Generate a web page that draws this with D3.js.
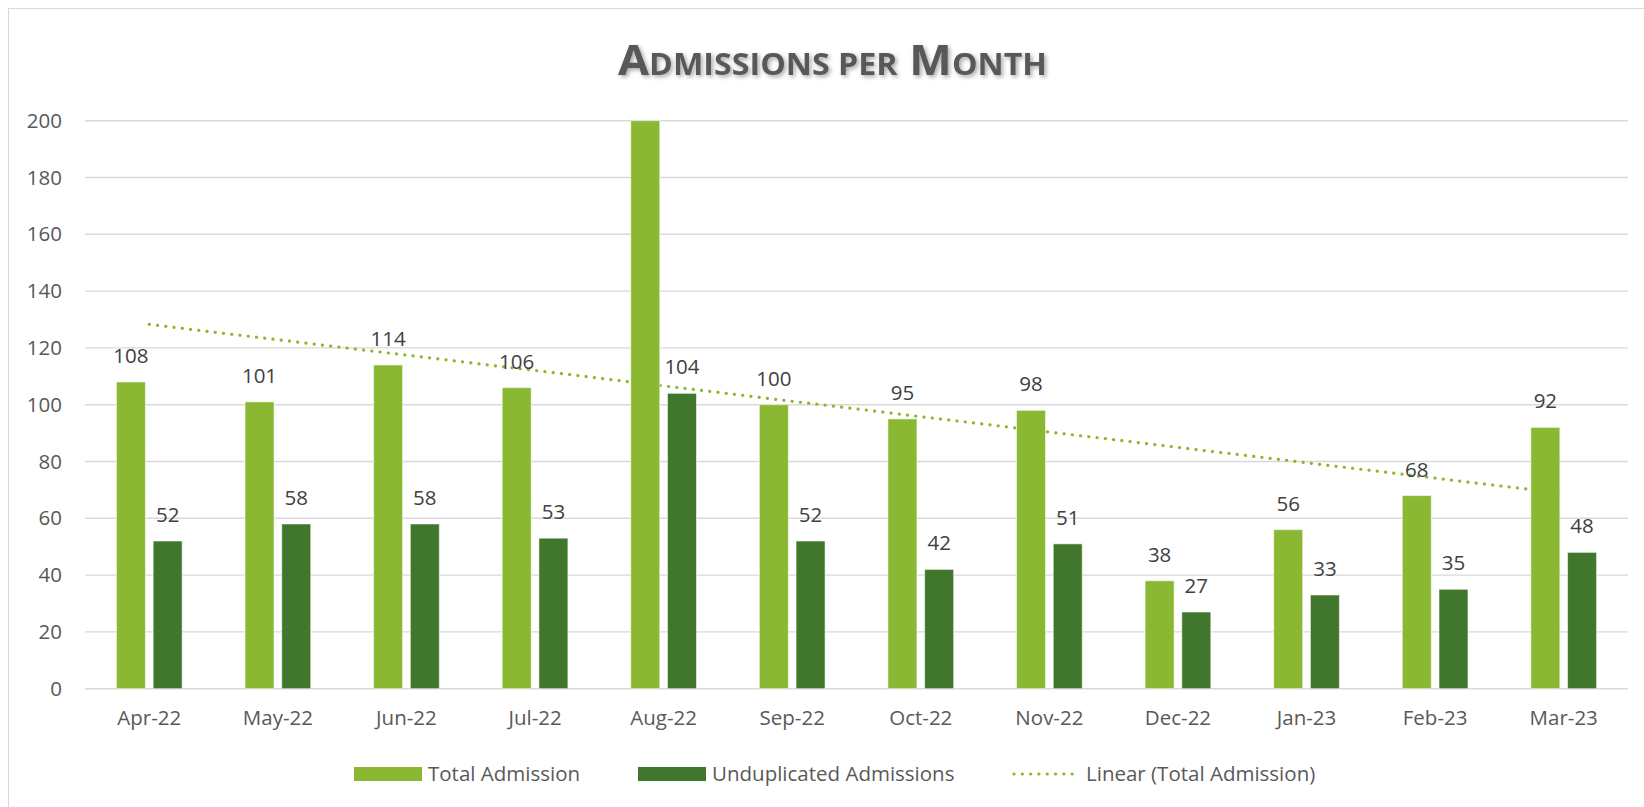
<!DOCTYPE html>
<html>
<head>
<meta charset="utf-8">
<script src="https://cdn.jsdelivr.net/npm/d3@7/dist/d3.min.js"></script>
<style>
  html, body { margin: 0; padding: 0; background: #fff; }
  svg { display: block; font-family: 'Open Sans', sans-serif; }
</style>
</head>
<body>
<div id="chart"></div>
<script>
// data
var months = ['Apr-22', 'May-22', 'Jun-22', 'Jul-22', 'Aug-22', 'Sep-22',
  'Oct-22', 'Nov-22', 'Dec-22', 'Jan-23', 'Feb-23', 'Mar-23'];
var totalAdmission = [108, 101, 114, 106, 206, 100, 95, 98, 38, 56, 68, 92];
var unduplicatedAdmissions = [52, 58, 58, 53, 104, 52, 42, 51, 27, 33, 35, 48];
var yTicks = [0, 20, 40, 60, 80, 100, 120, 140, 160, 180, 200];
var seriesNames = ['Total Admission', 'Unduplicated Admissions', 'Linear (Total Admission)'];

var width = 1644;
var height = 807;
var margin = { top: 120.7, right: 16, bottom: 118.3, left: 85 };
var lightGreen = '#8ab833';
var darkGreen = '#41772c';
var axisColor = '#595959';
var labelColor = '#404040';
var fontSize = 20.5;

var svg = d3.select('#chart').append('svg')
  .attr('width', width)
  .attr('height', height);

// 外框
svg.append('rect')
  .attr('x', 8.5).attr('y', 8.5)
  .attr('width', width + 20).attr('height', height + 20)
  .attr('fill', 'none')
  .attr('stroke', '#d9d9d9')
  .attr('stroke-width', 1);

// title with small caps and shadow
var defs = svg.append('defs');
var shadow = defs.append('filter').attr('id', 'shadow')
  .attr('x', '-10%').attr('y', '-30%').attr('width', '120%').attr('height', '160%');
shadow.append('feDropShadow')
  .attr('dx', 2).attr('dy', 2).attr('stdDeviation', 2)
  .attr('flood-color', '#000').attr('flood-opacity', 0.35);

var titleWords = ['Admissions', 'per', 'Month'];
var title = svg.append('text')
  .attr('x', 618).attr('y', 75)
  .attr('fill', axisColor)
  .attr('font-weight', 700)
  .attr('filter', 'url(#shadow)')
  .attr('textLength', 429)
  .attr('lengthAdjust', 'spacingAndGlyphs');
titleWords.forEach(function (w, i) {
  var first = w.charAt(0);
  var rest = w.slice(1);
  var isUpper = first === first.toUpperCase();
  title.append('tspan')
    .attr('font-size', isUpper ? 42 : 30)
    .text((i > 0 ? ' ' : '') + first.toUpperCase());
  title.append('tspan')
    .attr('font-size', 30)
    .text(rest.toUpperCase());
});

var plotW = width - margin.left - margin.right;
var plotH = height - margin.top - margin.bottom;
var g = svg.append('g')
  .attr('transform', 'translate(' + margin.left + ',' + margin.top + ')');

var x = d3.scaleBand().domain(months).range([0, plotW]).padding(0);
var y = d3.scaleLinear().domain([0, 200]).range([plotH, 0]);

var barW = x.bandwidth() * 0.2255;
var barGap = x.bandwidth() * 0.06;

// gridlines
g.append('g')
  .selectAll('line')
  .data(yTicks)
  .enter().append('line')
  .attr('x1', 0).attr('x2', plotW)
  .attr('y1', function (d) { return y(d); })
  .attr('y2', function (d) { return y(d); })
  .attr('stroke', '#d9d9d9')
  .attr('stroke-width', 1.4);

// y axis
var yAxis = g.append('g')
  .call(d3.axisLeft(y).tickValues(yTicks).tickSize(0).tickPadding(23));
yAxis.select('.domain').remove();
yAxis.selectAll('text')
  .attr('fill', axisColor)
  .attr('font-size', fontSize)
  .attr('font-family', 'Open Sans');

// x axis
var xAxis = g.append('g')
  .attr('transform', 'translate(0,' + plotH + ')')
  .call(d3.axisBottom(x).tickSize(0).tickPadding(22));
xAxis.select('.domain').remove();
xAxis.selectAll('text')
  .attr('fill', axisColor)
  .attr('font-size', fontSize)
  .attr('font-family', 'Open Sans');

// trendline (linear regression of total admission)
var idx = d3.range(1, months.length + 1);
var mx = d3.mean(idx);
var my = d3.mean(totalAdmission);
var sxy = d3.sum(idx, function (d, i) { return (d - mx) * (totalAdmission[i] - my); });
var sxx = d3.sum(idx, function (d) { return (d - mx) * (d - mx); });
var slope = sxy / sxx;
var intercept = my - slope * mx;
var trend = [1, months.length].map(function (k) {
  return { m: months[k - 1], v: intercept + slope * k };
});
g.append('path')
  .datum(trend)
  .attr('d', d3.line()
    .x(function (d) { return x(d.m) + x.bandwidth() / 2; })
    .y(function (d) { return y(d.v); }))
  .attr('fill', 'none')
  .attr('stroke', lightGreen)
  .attr('stroke-width', 3.2)
  .attr('stroke-linecap', 'round')
  .attr('stroke-dasharray', '0.1 8.2');

// bars
var series = [
  { values: totalAdmission, color: lightGreen, offset: -barGap / 2 - barW },
  { values: unduplicatedAdmissions, color: darkGreen, offset: barGap / 2 }
];
series.forEach(function (s) {
  var grp = g.append('g');
  grp.selectAll('rect')
    .data(s.values)
    .enter().append('rect')
    .attr('x', function (d, i) { return x(months[i]) + x.bandwidth() / 2 + s.offset; })
    .attr('y', function (d) { return y(Math.min(d, 200)); })
    .attr('width', barW)
    .attr('height', function (d) { return plotH - y(Math.min(d, 200)); })
    .attr('fill', s.color)
    .attr('stroke', 'rgba(255,255,255,0.55)')
    .attr('stroke-width', 1);
  // data labels, hidden when past the axis max
  s.values.forEach(function (d, i) {
    if (d > 200) return;
    grp.append('text')
      .attr('x', x(months[i]) + x.bandwidth() / 2 + s.offset + barW / 2)
      .attr('y', y(d) - 19)
      .attr('text-anchor', 'middle')
      .attr('fill', labelColor)
      .attr('font-size', fontSize)
      .text(d);
  });
});

// legend
var legendItems = [
  { name: seriesNames[0], type: 'rect', color: lightGreen, x: 354 },
  { name: seriesNames[1], type: 'rect', color: darkGreen, x: 638 },
  { name: seriesNames[2], type: 'line', color: lightGreen, x: 1012 }
];
var legend = svg.append('g');
legendItems.forEach(function (it) {
  if (it.type === 'rect') {
    legend.append('rect')
      .attr('x', it.x).attr('y', 767)
      .attr('width', 68).attr('height', 14)
      .attr('fill', it.color);
  } else {
    legend.append('line')
      .attr('x1', it.x + 2).attr('x2', it.x + 66)
      .attr('y1', 774).attr('y2', 774)
      .attr('stroke', it.color)
      .attr('stroke-width', 3.2)
      .attr('stroke-linecap', 'round')
      .attr('stroke-dasharray', '0.1 8.2');
  }
  legend.append('text')
    .attr('x', it.x + 74)
    .attr('y', 781)
    .attr('fill', axisColor)
    .attr('font-size', fontSize)
    .text(it.name);
});
</script>
</body>
</html>
